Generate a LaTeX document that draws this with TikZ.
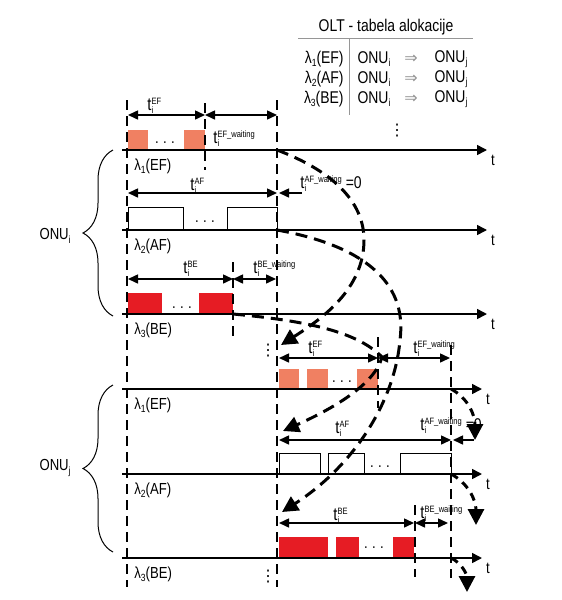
\documentclass[tikz,border=0pt]{standalone}
\usepackage{fontspec}
\setmainfont{Liberation Sans}[FakeStretch=0.82]
\newfontfamily\symfont{DejaVu Sans}
\usetikzlibrary{arrows.meta, positioning, decorations.pathreplacing}
\definecolor{efOrange}{RGB}{240,128,98}
\definecolor{beRed}{RGB}{230,28,36}
\definecolor{mapGray}{RGB}{150,150,150}
\newcommand{\smallfs}{\fontsize{4.6}{5}\selectfont}
\newcommand{\tdur}[1]{t\rlap{\raisebox{-1.8pt}{\smallfs i}}\raisebox{2.9pt}{\smallfs #1}}
\newcommand{\lam}[2]{λ\raisebox{-1.6pt}{\fontsize{5.2}{5}\selectfont #1}(#2)}
\newcommand{\onu}[1]{ONU\raisebox{-1.6pt}{\fontsize{5.2}{5}\selectfont #1}}
\newcommand{\gapdots}{.\hspace{2.2pt}.\hspace{2.2pt}.}

\begin{document}
\begin{tikzpicture}[
    x=0.5pt, y=-0.5pt,
    font=\fontsize{8}{9.5}\selectfont,
    timeline/.style={line width=0.8pt, -{Triangle[length=5pt,width=5pt]}},
    slotedge/.style={line width=1.4pt, dash pattern=on 5pt off 3pt},
    dimarrow/.style={line width=0.75pt, {Triangle[length=5pt,width=4.5pt]}-{Triangle[length=5pt,width=4.5pt]}},
    zeroarrow/.style={line width=0.75pt, -{Triangle[length=5pt,width=4.5pt]}},
    remap/.style={line width=1.5pt, dash pattern=on 6pt off 3.5pt, -{Triangle[length=8pt,width=8pt]}},
    spill/.style={remap, dash pattern=on 4pt off 3pt},
    efslot/.style={fill=efOrange},
    beslot/.style={fill=beRed},
    afslot/.style={draw, line width=0.5pt},
    durlabel/.style={anchor=base west, inner sep=0pt, font=\fontsize{9}{10}\selectfont},
    chlabel/.style={anchor=west, inner sep=0pt},
    tablecell/.style={font=\fontsize{8.5}{10}\selectfont},
    onubrace/.style={decorate, decoration={brace, amplitude=15pt}, line width=0.5pt},
    dots/.style={inner sep=0pt},
    vdots/.style={inner sep=0pt, font=\symfont\fontsize{8}{8}\selectfont},
  ]
    \useasboundingbox (0,0) rectangle (562,600);

    % OLT table
    \node[tablecell] (olt) at (386,27) {OLT - tabela alokacije};
    \coordinate (ruleL) at (298,38);
    \coordinate (ruleR) at (473,38);
    \draw[line width=0.5pt, mapGray] (ruleL) -- (ruleR);
    \coordinate (colT) at (349,38);
    \coordinate (colB) at (349,115);
    \draw[line width=0.5pt, mapGray] (colT) -- (colB);
    \foreach \k/\c/\y in {1/EF/59, 2/AF/79, 3/BE/99} {
      \node[tablecell, anchor=east, inner sep=0pt] (cls\k) at (344,\y) {\lam{\k}{\c}};
      \node[tablecell] (src\k) at (374,\y) {\onu{i}};
      \node[text=mapGray] (map\k) at (411,\y) {\symfont ⇒};
      \node[tablecell] (dst\k) at (451,\y) {\onu{j}};
    }
    \node[vdots] (moreRows) at (397,131) {⋮};

    % slots
    \foreach \xa/\xb/\ya/\yb in {128/148/130/150, 184/205/130/150, 279/299/369/389, 307/328/369/389, 357/378/369/389}
      \fill[efslot] (\xa,\ya) rectangle (\xb,\yb);
    \foreach \xa/\xb/\ya/\yb in {128/183/207/230, 227/277/207/230, 279/320/453/474, 328/364/453/474, 400/451/453/474}
      \draw[afslot] (\xa,\yb) |- (\xb,\ya) -- (\xb,\yb);
    \foreach \xa/\xb/\ya/\yb in {128/162/293/314, 199/233/293/314, 279/328/537/558, 336/359/537/558, 393/414/537/558}
      \fill[beslot] (\xa,\ya) rectangle (\xb,\yb);
    \foreach \n/\x/\y in {dotsEFi/165/143, dotsAFi/205/222, dotsBEi/182/308, dotsEFj/342/382, dotsAFj/380/467, dotsBEj/374/548}
      \node[dots] (\n) at (\x,\y) {\gapdots};

    % timelines
    \foreach \n/\k/\c/\y/\xe in {efI/1/EF/150/487, afI/2/AF/230/487, beI/3/BE/314/487, efJ/1/EF/389/482, afJ/2/AF/474/482, beJ/3/BE/558/482} {
      \coordinate (\n0) at (122,\y);
      \coordinate (\n1) at (\xe,\y);
      \draw[timeline] (\n0) -- (\n1);
      \node[inner sep=0pt] (\n-t) at (\xe+6,\y+10) {t};
      \node[chlabel] (\n-lbl) at (134,\y+16) {\lam{\k}{\c}};
    }

    % slot borders
    \foreach \n/\x/\ya/\yb in {leftEdge/127/100/587, midEdge/277/100/587, rightEdge/451/345/578,
                               efIcut/205/103/170, beIcut/233/262/336, efJcut/378/337/408, beJcut/415/505/577} {
      \coordinate (\n0) at (\x,\ya);
      \coordinate (\n1) at (\x,\yb);
      \draw[slotedge] (\n0) -- (\n1);
    }
    \node[vdots] (moreJ1) at (268,351) {⋮};
    \node[vdots] (moreJ2) at (268,577) {⋮};

    % durations
    \foreach \n/\xa/\xb/\y in {durEFi/128/205/115, waitEFi/205/277/115, durAFi/128/277/193, durBEi/128/233/279, waitBEi/233/276/279,
                               durEFj/279/378/358, waitEFj/378/450/358, durAFj/279/451/440, durBEj/279/414/523, waitBEj/415/448/523} {
      \coordinate (\n0) at (\xa,\y);
      \coordinate (\n1) at (\xb,\y);
      \draw[dimarrow] (\n0) -- (\n1);
    }
    \coordinate (zeroAFi0) at (302,193);
    \coordinate (zeroAFi1) at (279,193);
    \draw[zeroarrow] (zeroAFi0) -- (zeroAFi1);
    \coordinate (zeroAFj0) at (474,440);
    \coordinate (zeroAFj1) at (453,440);
    \draw[zeroarrow] (zeroAFj0) -- (zeroAFj1);

    \node[durlabel] (lblEFi) at (147,110) {\tdur{EF}};
    \node[durlabel] (lblWaitEFi) at (213,143) {\tdur{EF\_waiting}};
    \node[durlabel] (lblAFi) at (190,190) {\tdur{AF}};
    \node[durlabel] (lblWaitAFi) at (300,188) {\tdur{AF\_waiting}\hspace{2pt}{\fontsize{8.5}{9}\selectfont =0}};
    \node[durlabel] (lblBEi) at (183,273) {\tdur{BE}};
    \node[durlabel] (lblWaitBEi) at (253,273) {\tdur{BE\_waiting}};
    \node[durlabel] (lblEFj) at (308,353) {\tdur{EF}};
    \node[durlabel] (lblWaitEFj) at (413,353) {\tdur{EF\_waiting}};
    \node[durlabel] (lblAFj) at (335,433) {\tdur{AF}};
    \node[durlabel] (lblWaitAFj) at (420,430) {\tdur{AF\_waiting}\hspace{2pt}{\fontsize{8.5}{9}\selectfont =0}};
    \node[durlabel] (lblBEj) at (333,520) {\tdur{BE}};
    \node[durlabel] (lblWaitBEj) at (420,518) {\tdur{BE\_waiting}};

    % ONU groups
    \coordinate (braceIb) at (113,316);
    \coordinate (braceIt) at (113,150);
    \draw[onubrace] (braceIb) -- (braceIt);
    \node[anchor=east, inner sep=0pt] (onuI) at (71,236) {\onu{i}};
    \coordinate (braceJb) at (113,552);
    \coordinate (braceJt) at (113,385);
    \draw[onubrace] (braceJb) -- (braceJt);
    \node[anchor=east, inner sep=0pt] (onuJ) at (71,468) {\onu{j}};

    % Reallocation
    \coordinate (efIend) at (277,150);
    \coordinate (afIend) at (277,230);
    \coordinate (beIend) at (233,314);
    \coordinate (efJin) at (281,345);
    \coordinate (afJin) at (283,431);
    \coordinate (beJin) at (282,512);
    \draw[remap] (efIend) .. controls (330,170) and (364,200) .. (364,240)
      .. controls (364,290) and (320,320) .. (efJin);
    \draw[remap] (afIend) .. controls (360,245) and (408,280) .. (400,340)
      .. controls (395,400) and (355,465) .. (beJin);
    \draw[remap] (beIend) .. controls (320,322) and (360,335) .. (382,357)
      .. controls (375,385) and (330,410) .. (afJin);

    % Overflow
    \coordinate (efJout) at (475,440);
    \coordinate (afJout) at (476,525);
    \coordinate (beJout) at (467,592);
    \draw[spill] (rightEdge0 |- efJ0) .. controls (468,398) and (475,415) .. (efJout);
    \draw[spill] (rightEdge0 |- afJ0) .. controls (468,483) and (476,500) .. (afJout);
    \draw[spill] (rightEdge0 |- beJ0) .. controls (462,563) and (467,575) .. (beJout);
  \end{tikzpicture}
\end{document}
